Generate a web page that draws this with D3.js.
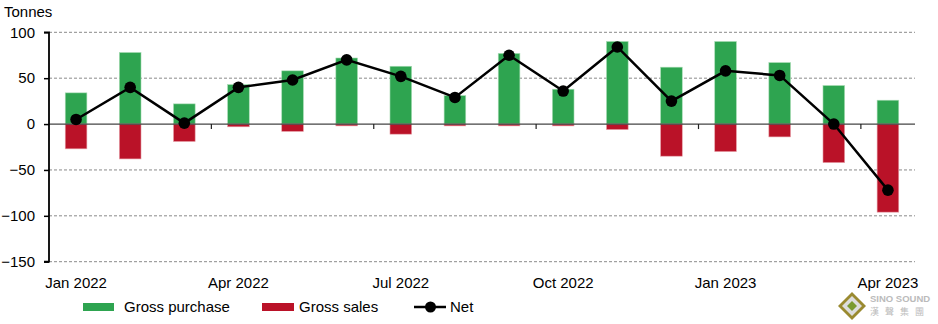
<!DOCTYPE html>
<html><head><meta charset="utf-8">
<script src="https://cdn.jsdelivr.net/npm/d3@7"></script>
<style>body{margin:0;background:#fff;}svg{display:block;font-family:"Liberation Sans",Arial,sans-serif;}</style>
</head><body><svg id="c" width="938" height="324"></svg>
<script>
const months = ["Jan 2022","Feb 2022","Mar 2022","Apr 2022","May 2022","Jun 2022","Jul 2022","Aug 2022","Sep 2022","Oct 2022","Nov 2022","Dec 2022","Jan 2023","Feb 2023","Mar 2023","Apr 2023"];
const grossPurchase = [34,78,22,43,58,72,63,31,77,38,90,62,90,67,42,26];
const grossSales = [-27,-38,-19,-3,-8,-2,-11,-2,-2,-2,-6,-35,-30,-14,-42,-96];
const net = [5,40,1,40,48,70,52,29,75,36,84,25,58,53,0,-72];
const yTicks = [100,50,0,-50,-100,-150];
const xLabels = ["Jan 2022","Apr 2022","Jul 2022","Oct 2022","Jan 2023","Apr 2023"];

(function(){
const svg = d3.select("#c");
const L = 49, R = 915, T = 32.3, B = 261.7;
const x = d3.scaleBand().domain(months).range([L, R]).paddingInner(0.6).paddingOuter(0.3);
const xc = m => x(m) + x.bandwidth()/2;
const y = d3.scaleLinear().domain([-150,100]).range([B, T]);
const green = "#2ea450", red = "#ba1228";

// gridlines
svg.append("g").selectAll("line").data(yTicks.filter(d=>d!==0)).join("line")
  .attr("x1", L).attr("x2", R).attr("y1", d=>y(d)).attr("y2", d=>y(d))
  .attr("stroke", "#8a8a8a").attr("stroke-width", 1).attr("stroke-dasharray", "3,2");

// bars
svg.append("g").selectAll("rect").data(months).join("rect")
  .attr("x", d=>x(d)).attr("width", x.bandwidth())
  .attr("y", (d,i)=>y(grossPurchase[i])).attr("height", (d,i)=>y(0)-y(grossPurchase[i]))
  .attr("fill", green).attr("stroke", "#a9dcb5").attr("stroke-width", 0.6);
svg.append("g").selectAll("rect").data(months).join("rect")
  .attr("x", d=>x(d)).attr("width", x.bandwidth())
  .attr("y", y(0)).attr("height", (d,i)=>y(grossSales[i])-y(0))
  .attr("fill", red).attr("stroke", "#e6a0a8").attr("stroke-width", 0.6);

// zero line
svg.append("line").attr("x1", L).attr("x2", R).attr("y1", y(0)).attr("y2", y(0))
  .attr("stroke", "#444").attr("stroke-width", 1.2);

// x ticks at quarter boundaries
const step = x.step();
const xt = [3,6,9,12,15].map(k => L + k*step);
svg.append("g").selectAll("line").data(xt).join("line")
  .attr("x1", d=>d).attr("x2", d=>d).attr("y1", y(0)).attr("y2", y(0)+5)
  .attr("stroke", "#222").attr("stroke-width", 1.2);

// y axis
const yAxis = d3.axisLeft(y).tickValues(yTicks).tickSize(5).tickPadding(9);
const ga = svg.append("g").attr("transform", `translate(${L},0)`).call(yAxis);
ga.select(".domain").attr("stroke", "#000").attr("stroke-width", 1.8).attr("d", `M-5,${T}H0V${B}H-5`);
ga.selectAll(".tick line").attr("stroke", "#000").attr("stroke-width", 1.5);
ga.selectAll(".tick text").attr("font-size", 15).attr("fill", "#000").attr("font-family", '"Liberation Sans",Arial,sans-serif');

// x labels
svg.append("g").selectAll("text").data(xLabels).join("text")
  .attr("x", d=>xc(d)).attr("y", 288).attr("text-anchor", "middle")
  .attr("font-size", 15).attr("fill", "#000").text(d=>d);

// Tonnes
svg.append("text").attr("x", 4).attr("y", 17).attr("font-size", 15).attr("fill", "#000").text("Tonnes");

// net line
const line = d3.line().x((d,i)=>xc(months[i])).y(d=>y(d));
svg.append("path").datum(net).attr("d", line).attr("fill", "none").attr("stroke", "#000").attr("stroke-width", 2.5);
svg.append("g").selectAll("circle").data(net).join("circle")
  .attr("cx", (d,i)=>xc(months[i])).attr("cy", d=>y(d)).attr("r", 5.8).attr("fill", "#000");

// legend
const lg = svg.append("g");
lg.append("rect").attr("x", 83).attr("y", 303).attr("width", 31).attr("height", 8).attr("fill", green);
lg.append("text").attr("x", 124).attr("y", 312).attr("font-size", 15).text("Gross purchase");
lg.append("rect").attr("x", 262).attr("y", 303).attr("width", 32).attr("height", 8).attr("fill", red);
lg.append("text").attr("x", 299).attr("y", 312).attr("font-size", 15).text("Gross sales");
lg.append("line").attr("x1", 414).attr("x2", 446).attr("y1", 307).attr("y2", 307).attr("stroke", "#000").attr("stroke-width", 2.5);
lg.append("circle").attr("cx", 430.5).attr("cy", 307).attr("r", 5.5).attr("fill", "#000");
lg.append("text").attr("x", 450).attr("y", 312).attr("font-size", 15).text("Net");

// watermark
const wm = svg.append("g");
wm.append("path").attr("d", "M852,292 L866,306 L852,320 L838,306 Z").attr("fill", "#9a8a30");
wm.append("path").attr("d", "M852,296 L862,306 L852,316 L842,306 Z").attr("fill", "#ddd");
wm.append("path").attr("d", "M852,301 L857,306 L852,311 L847,306 Z").attr("fill", "#7a9a30");
wm.append("text").attr("x", 870).attr("y", 302).attr("font-size", 9.5).attr("font-weight", "bold").attr("fill", "#bbb").text("SINO SOUND");
wm.append("text").attr("x", 870).attr("y", 315).attr("font-size", 9).attr("fill", "#bbb").attr("letter-spacing", 6)
  .attr("font-family", '"Noto Sans CJK TC",sans-serif').text("漢聲集團");
})();
</script></body></html>
